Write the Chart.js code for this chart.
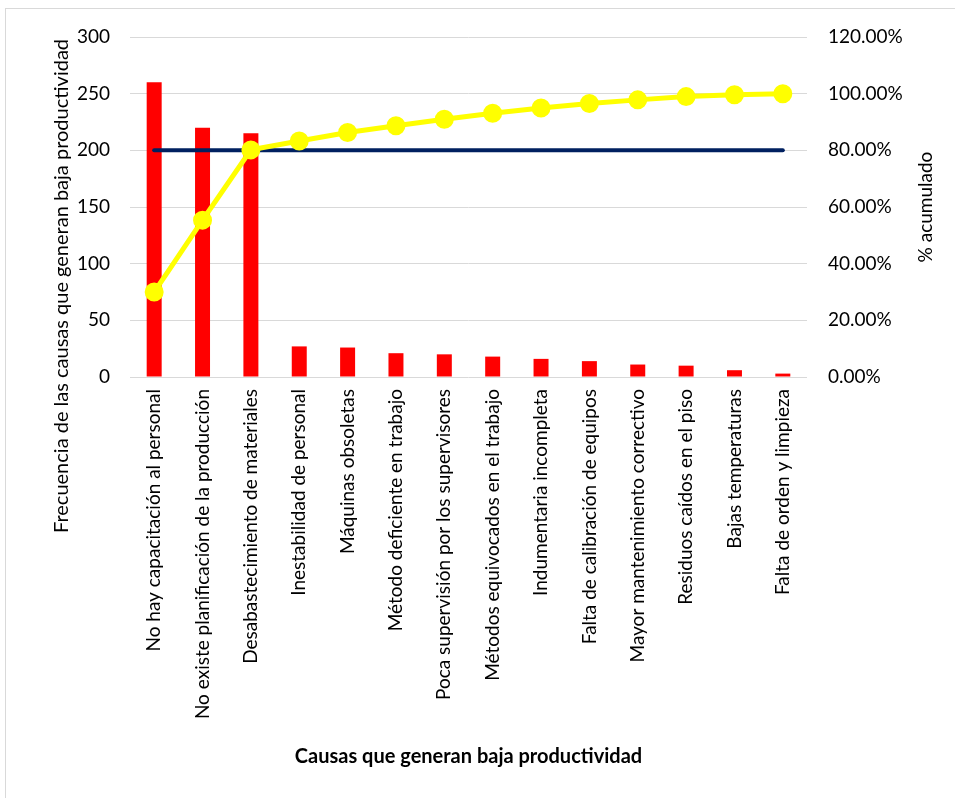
<!DOCTYPE html>
<html>
<head>
<meta charset="utf-8">
<script src="https://cdn.jsdelivr.net/npm/chart.js@4.4.1/dist/chart.umd.min.js"></script>
<style>
  html, body { margin: 0; padding: 0; background: #ffffff; }
  #wrap { width: 955px; height: 798px; position: relative; }
</style>
</head>
<body>
<div id="wrap"><canvas id="c" width="955" height="798"></canvas></div>
<script>
const categories = [
  "No hay capacitación al personal",
  "No existe planificación de la producción",
  "Desabastecimiento de materiales",
  "Inestabilidad de personal",
  "Máquinas obsoletas",
  "Método deficiente en trabajo",
  "Poca supervisión por los supervisores",
  "Métodos equivocados en el trabajo",
  "Indumentaria incompleta",
  "Falta de calibración de equipos",
  "Mayor mantenimiento correctivo",
  "Residuos caídos en el piso",
  "Bajas temperaturas",
  "Falta de orden y limpieza"
];
const frecuencia = [260, 220, 215, 27, 26, 21, 20, 18, 16, 14, 11, 10, 6, 3];
const acumulado = [29.99, 55.36, 80.16, 83.28, 86.27, 88.70, 91.00, 93.08, 94.93, 96.54, 97.81, 98.96, 99.65, 100.00];
const meta80 = [80, 80, 80, 80, 80, 80, 80, 80, 80, 80, 80, 80, 80, 80];
const leftTicks = [0, 50, 100, 150, 200, 250, 300];
const rightTicks = [0, 20, 40, 60, 80, 100, 120];
const leftTitle = 'Frecuencia de las causas que generan baja productividad';
const rightTitle = '% acumulado';
const bottomTitle = 'Causas que generan baja productividad';

const FONT = "Lato, 'Open Sans', sans-serif";

const frame = {
  id: 'frame',
  beforeDraw(chart) {
    const ctx = chart.ctx;
    ctx.save();
    ctx.fillStyle = '#ffffff';
    ctx.fillRect(0, 0, chart.width, chart.height);
    ctx.strokeStyle = '#d9d9d9';
    ctx.lineWidth = 1;
    ctx.strokeRect(5.5, 8.5, 1000, 1000);
    ctx.restore();
  },
  afterDraw(chart) {
    const ctx = chart.ctx;
    const area = chart.chartArea;
    ctx.save();
    ctx.fillStyle = '#000000';
    ctx.font = "19px " + FONT;
    ctx.textAlign = 'center';
    ctx.textBaseline = 'middle';
    ctx.translate(926, (area.top + area.bottom) / 2);
    ctx.rotate(-Math.PI / 2);
    ctx.fillText(rightTitle, 0, 0);
    ctx.restore();

    ctx.save();
    ctx.fillStyle = '#000000';
    ctx.font = "20px " + FONT;
    ctx.textAlign = 'center';
    ctx.textBaseline = 'middle';
    ctx.translate(62, 286);
    ctx.rotate(-Math.PI / 2);
    ctx.fillText(leftTitle, 0, 0);
    ctx.restore();
  }
};

new Chart(document.getElementById('c'), {
  type: 'bar',
  data: {
    labels: categories,
    datasets: [
      {
        type: 'line',
        label: '% acumulado',
        data: acumulado,
        yAxisID: 'y1',
        borderColor: '#FFFF00',
        backgroundColor: '#FFFF00',
        borderWidth: 5,
        pointRadius: 7,
        pointHoverRadius: 7,
        pointBackgroundColor: '#FFFF00',
        pointBorderColor: '#FFFF00',
        tension: 0,
        order: 1
      },
      {
        type: 'line',
        label: '80%',
        data: meta80,
        yAxisID: 'y1',
        borderColor: '#002060',
        backgroundColor: '#002060',
        borderWidth: 4,
        borderCapStyle: 'round',
        pointRadius: 0,
        tension: 0,
        order: 2
      },
      {
        type: 'bar',
        label: 'Frecuencia',
        data: frecuencia,
        yAxisID: 'y',
        backgroundColor: '#FF0000',
        borderWidth: 0,
        categoryPercentage: 0.62,
        barPercentage: 0.5,
        order: 3
      }
    ]
  },
  options: {
    responsive: false,
    animation: false,
    devicePixelRatio: 1,
    layout: { padding: { top: 37, left: 0, right: 0, bottom: 0 } },
    plugins: {
      legend: { display: false },
      tooltip: { enabled: false },
      title: { display: false }
    },
    scales: {
      x: {
        offset: true,
        grid: { display: false, drawTicks: false },
        border: { display: false },
        ticks: {
          autoSkip: false,
          minRotation: 90,
          maxRotation: 90,
          padding: 12,
          color: '#000000',
          font: { family: FONT, size: 19 }
        },
        title: {
          display: true,
          text: bottomTitle,
          color: '#000000',
          font: { family: FONT, size: 20, weight: 'bold' },
          padding: { top: 4, bottom: 29 }
        },
        afterFit(scale) { scale.height = 421; }
      },
      y: {
        position: 'left',
        min: 0,
        max: 300,
        afterBuildTicks(scale) { scale.ticks = leftTicks.map(v => ({ value: v })); },
        grid: { color: '#d9d9d9', lineWidth: 1, drawTicks: false },
        border: { display: false },
        ticks: {
          padding: 20,
          color: '#000000',
          font: { family: FONT, size: 19 }
        },
        afterFit(scale) { scale.width = 130; }
      },
      y1: {
        position: 'right',
        min: 0,
        max: 120,
        afterBuildTicks(scale) { scale.ticks = rightTicks.map(v => ({ value: v })); },
        grid: { display: false, drawTicks: false },
        border: { display: false },
        ticks: {
          padding: 21,
          color: '#000000',
          font: { family: FONT, size: 19 },
          callback: v => Number(v).toFixed(2) + '%'
        },
        afterFit(scale) { scale.width = 148; }
      }
    }
  },
  plugins: [frame]
});
</script>
</body>
</html>
